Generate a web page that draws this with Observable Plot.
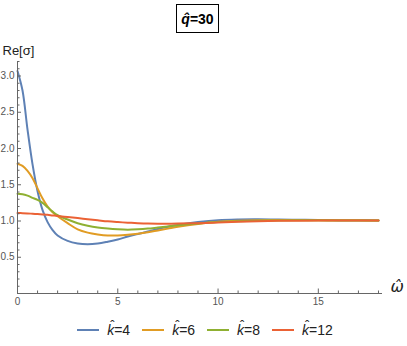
<!DOCTYPE html>
<html>
<head>
<meta charset="utf-8">
<script src="https://cdn.jsdelivr.net/npm/d3@7"></script>
<script src="https://cdn.jsdelivr.net/npm/@observablehq/plot@0.6"></script>
<style>
  body { margin: 0; width: 407px; height: 346px; background: #fff; font-family: "Liberation Sans", Arial, sans-serif; overflow: hidden; }
  #title { height: 38px; position: relative; }
  #title span.box { position: absolute; left: 176px; top: 4px; width: 41px; height: 27px; border: 1px solid #000;
    display: flex; align-items: center; justify-content: center; font: bold 14px "Liberation Sans", Arial, sans-serif; }
  #legend { display: flex; justify-content: center; align-items: center; height: 33px; font-size: 14px; color: #222; padding-left: 3px; }
  .item { display: flex; align-items: center; margin: 0 6px; }
  .sw { width: 22px; height: 2px; margin-right: 8px; }
  .hat { position: relative; display: inline-block; font-style: italic; }
  .hat::after { content: "ˆ"; position: absolute; left: 3px; top: -4px; font-style: normal; font-size: 13px; }
</style>
</head>
<body>
<div id="title"><span class="box"><i>q̂</i>=30</span></div>
<div id="chart"></div>
<div id="legend"></div>
<script>
// ---- data ----
const seriesNames = ["k=4", "k=6", "k=8", "k=12"];
const seriesLabels = ["4", "6", "8", "12"];
const seriesColors = ["#5E81B5", "#E19C24", "#8FB032", "#EB6235"];

const omega = [0, 0.25, 0.5, 0.75, 1, 1.25, 1.5, 1.75, 2, 2.5, 3, 3.5, 4, 4.5, 5, 5.5, 6, 6.5, 7, 7.5, 8, 9, 10, 11, 12, 13, 14, 15, 16, 17, 18];

const k4  = [3.07, 2.80, 2.26, 1.78, 1.41, 1.15, 0.985, 0.875, 0.80, 0.725, 0.69, 0.68, 0.69, 0.715, 0.745, 0.785, 0.82, 0.855, 0.89, 0.92, 0.945, 0.985, 1.012, 1.022, 1.024, 1.02, 1.017, 1.014, 1.012, 1.01, 1.008];
const k6  = [1.79, 1.76, 1.69, 1.59, 1.45, 1.31, 1.20, 1.12, 1.065, 0.97, 0.885, 0.84, 0.815, 0.80, 0.80, 0.81, 0.825, 0.845, 0.87, 0.895, 0.92, 0.96, 0.99, 1.005, 1.012, 1.014, 1.013, 1.011, 1.01, 1.009, 1.008];
const k8  = [1.375, 1.37, 1.35, 1.32, 1.29, 1.25, 1.19, 1.13, 1.08, 1.02, 0.97, 0.935, 0.91, 0.895, 0.885, 0.88, 0.885, 0.895, 0.91, 0.925, 0.94, 0.965, 0.985, 0.998, 1.005, 1.008, 1.009, 1.009, 1.008, 1.008, 1.008];
const k12 = [1.11, 1.108, 1.105, 1.10, 1.095, 1.09, 1.085, 1.077, 1.07, 1.055, 1.04, 1.025, 1.01, 0.995, 0.985, 0.977, 0.97, 0.965, 0.963, 0.963, 0.964, 0.97, 0.98, 0.99, 0.997, 1.002, 1.005, 1.007, 1.008, 1.008, 1.008];

const xMajor = [0, 5, 10, 15];
const xMinor = [1, 2, 3, 4, 6, 7, 8, 9, 11, 12, 13, 14, 16, 17, 18];
const yMajor = [0.5, 1.0, 1.5, 2.0, 2.5, 3.0];
const yMinor = [0.1, 0.2, 0.3, 0.4, 0.6, 0.7, 0.8, 0.9, 1.1, 1.2, 1.3, 1.4, 1.6, 1.7, 1.8, 1.9, 2.1, 2.2, 2.3, 2.4, 2.6, 2.7, 2.8, 2.9, 3.1, 3.2];

// ---- build tidy table ----
const allSeries = [k4, k6, k8, k12];
const data = [];
allSeries.forEach((vals, i) => vals.forEach((v, j) => data.push({omega: omega[j], value: v, series: seriesNames[i]})));

const W = 407, H = 275, mt = 23, mb = 20, ml = 17, mr = 25;
const innerW = W - ml - mr, innerH = H - mt - mb;
const axisColor = "#666";

const chart = Plot.plot({
  width: W, height: H,
  marginTop: mt, marginBottom: mb, marginLeft: ml, marginRight: mr,
  x: {domain: [0, 18.2]},
  y: {domain: [0, 3.2]},
  color: {domain: seriesNames, range: seriesColors},
  style: {fontFamily: "'Liberation Sans', Arial, sans-serif", fontSize: "10px", color: "#555", background: "white", overflow: "visible"},
  marks: [
    Plot.line(data, {x: "omega", y: "value", stroke: "series", strokeWidth: 2, curve: "catmull-rom"}),
    Plot.ruleY([0], {stroke: axisColor}),
    Plot.ruleX([0], {stroke: axisColor}),
    Plot.tickX(xMajor.filter(d => d !== 0), {x: d => d, stroke: axisColor, insetTop: innerH - 4.5}),
    Plot.tickX(xMinor, {x: d => d, stroke: axisColor, insetTop: innerH - 2.5}),
    Plot.tickY(yMajor, {y: d => d, stroke: axisColor, insetRight: innerW - 4}),
    Plot.tickY(yMinor, {y: d => d, stroke: axisColor, insetRight: innerW - 2.5}),
    Plot.axisX({ticks: xMajor, tickSize: 0, tickPadding: 4, tickFormat: d => String(d), label: null, fill: "#555"}),
    Plot.axisY({ticks: yMajor, tickSize: 0, tickPadding: 3, tickFormat: d3.format(".1f"), label: null, fill: "#555"}),
    Plot.text(["Re[σ]"], {frameAnchor: "top-left", textAnchor: "start", dx: -15, dy: -16, fontSize: 13, fill: "#222"}),
    Plot.text(["ω̂"], {frameAnchor: "bottom-right", textAnchor: "start", dx: 8, dy: -2, fontSize: 16, fontStyle: "italic", fontFamily: "'DejaVu Sans'", fill: "#222"})
  ]
});
document.getElementById("chart").appendChild(chart);

// ---- legend ----
const legend = document.getElementById("legend");
seriesNames.forEach((name, i) => {
  const item = document.createElement("div");
  item.className = "item";
  item.innerHTML = `<div class="sw" style="background:${seriesColors[i]}"></div><span><span class="hat">k</span>=${seriesLabels[i]}</span>`;
  legend.appendChild(item);
});
</script>
</body>
</html>
